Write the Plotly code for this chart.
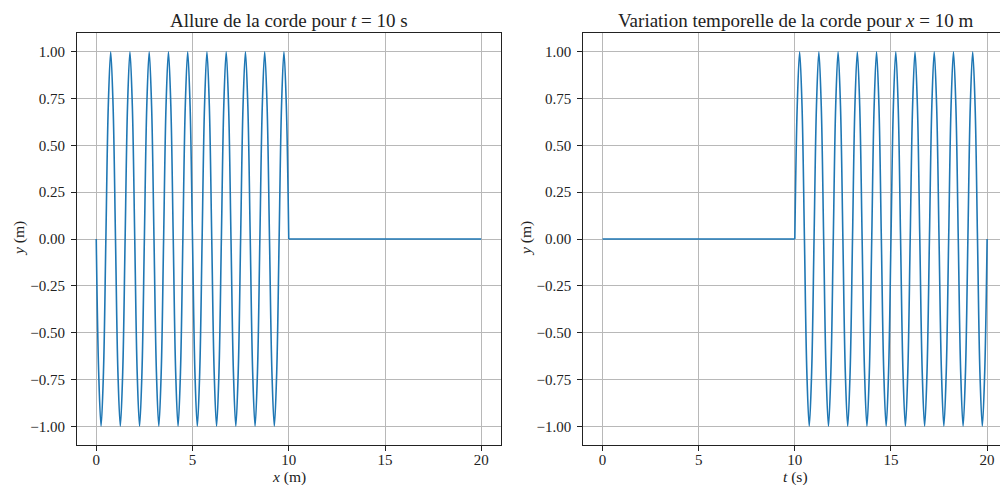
import plotly.graph_objects as go

# ---- data ----
# left: shape of the string at t = 10 s (wave part, then string at rest)
x_wave = [
    0, 0.125, 0.25, 0.375, 0.5, 0.625, 0.75, 0.875,
    1, 1.125, 1.25, 1.375, 1.5, 1.625, 1.75, 1.875,
    2, 2.125, 2.25, 2.375, 2.5, 2.625, 2.75, 2.875,
    3, 3.125, 3.25, 3.375, 3.5, 3.625, 3.75, 3.875,
    4, 4.125, 4.25, 4.375, 4.5, 4.625, 4.75, 4.875,
    5, 5.125, 5.25, 5.375, 5.5, 5.625, 5.75, 5.875,
    6, 6.125, 6.25, 6.375, 6.5, 6.625, 6.75, 6.875,
    7, 7.125, 7.25, 7.375, 7.5, 7.625, 7.75, 7.875,
    8, 8.125, 8.25, 8.375, 8.5, 8.625, 8.75, 8.875,
    9, 9.125, 9.25, 9.375, 9.5, 9.625, 9.75, 9.875,
    10,
]
y_wave_x = [
    0, -0.71, -1, -0.71, 0, 0.71, 1, 0.71,
    0, -0.71, -1, -0.71, 0, 0.71, 1, 0.71,
    0, -0.71, -1, -0.71, 0, 0.71, 1, 0.71,
    0, -0.71, -1, -0.71, 0, 0.71, 1, 0.71,
    0, -0.71, -1, -0.71, 0, 0.71, 1, 0.71,
    0, -0.71, -1, -0.71, 0, 0.71, 1, 0.71,
    0, -0.71, -1, -0.71, 0, 0.71, 1, 0.71,
    0, -0.71, -1, -0.71, 0, 0.71, 1, 0.71,
    0, -0.71, -1, -0.71, 0, 0.71, 1, 0.71,
    0, -0.71, -1, -0.71, 0, 0.71, 1, 0.71,
    0,
]
x_rest = [10, 20]
y_rest_x = [0, 0]

# right: displacement at x = 10 m versus time
t_rest = [0, 10]
y_rest_t = [0, 0]
t_wave = [
    10, 10.125, 10.25, 10.375, 10.5, 10.625, 10.75, 10.875,
    11, 11.125, 11.25, 11.375, 11.5, 11.625, 11.75, 11.875,
    12, 12.125, 12.25, 12.375, 12.5, 12.625, 12.75, 12.875,
    13, 13.125, 13.25, 13.375, 13.5, 13.625, 13.75, 13.875,
    14, 14.125, 14.25, 14.375, 14.5, 14.625, 14.75, 14.875,
    15, 15.125, 15.25, 15.375, 15.5, 15.625, 15.75, 15.875,
    16, 16.125, 16.25, 16.375, 16.5, 16.625, 16.75, 16.875,
    17, 17.125, 17.25, 17.375, 17.5, 17.625, 17.75, 17.875,
    18, 18.125, 18.25, 18.375, 18.5, 18.625, 18.75, 18.875,
    19, 19.125, 19.25, 19.375, 19.5, 19.625, 19.75, 19.875,
    20,
]
y_wave_t = [
    0, 0.71, 1, 0.71, 0, -0.71, -1, -0.71,
    0, 0.71, 1, 0.71, 0, -0.71, -1, -0.71,
    0, 0.71, 1, 0.71, 0, -0.71, -1, -0.71,
    0, 0.71, 1, 0.71, 0, -0.71, -1, -0.71,
    0, 0.71, 1, 0.71, 0, -0.71, -1, -0.71,
    0, 0.71, 1, 0.71, 0, -0.71, -1, -0.71,
    0, 0.71, 1, 0.71, 0, -0.71, -1, -0.71,
    0, 0.71, 1, 0.71, 0, -0.71, -1, -0.71,
    0, 0.71, 1, 0.71, 0, -0.71, -1, -0.71,
    0, 0.71, 1, 0.71, 0, -0.71, -1, -0.71,
    0,
]

x_ticks = [0, 5, 10, 15, 20]
y_ticks = [-1.0, -0.75, -0.5, -0.25, 0.0, 0.25, 0.5, 0.75, 1.0]

title_left = "Allure de la corde pour <i>t</i> = 10 s"
title_right = "Variation temporelle de la corde pour <i>x</i> = 10 m"
xlabel_left = "<i>x</i> (m)"
xlabel_right = "<i>t</i> (s)"
ylabel = "<i>y</i> (m)"

# ---- figure ----
FONT = "Liberation Serif"
COLOR = "#1f77b4"
line = dict(color=COLOR, width=1.6)

fig = go.Figure()
fig.add_trace(go.Scatter(x=x_wave, y=y_wave_x, mode="lines", line=dict(**line, shape="spline"),
                         xaxis="x", yaxis="y", showlegend=False))
fig.add_trace(go.Scatter(x=x_rest, y=y_rest_x, mode="lines", line=line,
                         xaxis="x", yaxis="y", showlegend=False))
fig.add_trace(go.Scatter(x=t_rest, y=y_rest_t, mode="lines", line=line,
                         xaxis="x2", yaxis="y2", showlegend=False))
fig.add_trace(go.Scatter(x=t_wave, y=y_wave_t, mode="lines", line=dict(**line, shape="spline"),
                         xaxis="x2", yaxis="y2", showlegend=False))

ax_common = dict(
    showgrid=True, gridcolor="#b8b8b8", gridwidth=0.8, zeroline=False,
    showline=True, linecolor="#222222", linewidth=1,
    ticks="outside", ticklen=5, tickcolor="#222222", tickwidth=1,
    tickfont=dict(family=FONT, size=15, color="#222222"),
)
Y0, Y1 = 1 - 445 / 485, 1 - 33 / 485

fig.update_layout(
    width=1000, height=485,
    margin=dict(l=0, r=0, t=0, b=0),
    paper_bgcolor="white", plot_bgcolor="white",
    xaxis=dict(**ax_common, domain=[77 / 1000, 500.5 / 1000], range=[-1, 21],
               tickvals=x_ticks, mirror=True, anchor="y", ticklabelstandoff=-4),
    yaxis=dict(**ax_common, domain=[Y0, Y1], range=[-1.1, 1.1],
               tickvals=y_ticks, tickformat=".2f", mirror=True, anchor="x",
               ticklabelstandoff=3),
    xaxis2=dict(**ax_common, domain=[583.3 / 1000, 1.0], range=[-1, 20.67],
                tickvals=x_ticks, mirror=True, anchor="y2", ticklabelstandoff=-4),
    yaxis2=dict(**ax_common, domain=[Y0, Y1], range=[-1.1, 1.1],
                tickvals=y_ticks, tickformat=".2f", mirror=False, anchor="x2",
                ticklabelstandoff=3),
)

def ann(text, x, y, size, angle=0):
    fig.add_annotation(text=text, x=x, y=y, xref="paper", yref="paper",
                       showarrow=False, xanchor="center", yanchor="middle",
                       textangle=angle, font=dict(family=FONT, size=size, color="#222222"))

ann(title_left, 288.5 / 1000, 1 - 21 / 485, 19)
ann(title_right, 795 / 1000, 1 - 21 / 485, 19)
ann(xlabel_left, 288.5 / 1000, 1 - 477 / 485, 15.5)
ann(xlabel_right, 795 / 1000, 1 - 477 / 485, 15.5)
ann(ylabel, 19 / 1000, 1 - 239 / 485, 15.5, -90)
ann(ylabel, 526 / 1000, 1 - 239 / 485, 15.5, -90)

fig.write_html("out.html", config={"displayModeBar": False},
               post_script="document.body.style.margin='0';document.body.style.overflow='hidden';")
